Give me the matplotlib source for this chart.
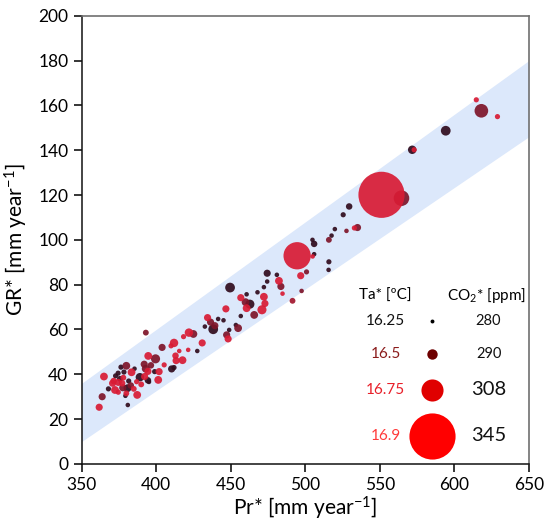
import numpy as np
import matplotlib
matplotlib.use("Agg")
from matplotlib import pyplot as plt
from matplotlib.colors import LinearSegmentedColormap

plt.rcParams['font.family'] = ['Lato', 'DejaVu Sans']
plt.rcParams['mathtext.fontset'] = 'custom'
plt.rcParams['mathtext.rm'] = 'Lato'
plt.rcParams['mathtext.it'] = 'Lato'

# Pr* [mm/yr], GR* [mm/yr], Ta* [C], CO2* [ppm]
pr = [361.8, 363.8, 365.0, 371.5, 372.8, 374.5, 375.7, 374.6, 377.2, 376.4,
      378.4, 380.0, 381.6, 377.6, 372.4, 374.6, 380.8, 380.0, 379.4, 381.0,
      383.5, 386.9, 387.3, 392.0, 393.0, 394.5, 392.3, 394.5, 389.1, 395.2,
      399.0, 402.0, 401.4, 394.7, 399.6, 393.1, 404.0, 405.4, 410.4, 412.0,
      410.0, 412.0, 413.0, 413.4, 415.5, 417.7, 418.4, 422.0, 425.0, 370.8,
      383.0, 385.0, 378.0, 368.0, 385.5, 390.0, 396.5, 427.6, 430.9, 432.7,
      434.5, 436.5, 438.3, 439.4, 441.6, 445.2, 446.8, 447.3, 448.3, 449.0,
      449.6, 453.5, 455.0, 456.8, 456.8, 460.0, 460.7, 460.7, 462.9, 465.8,
      468.0, 471.0, 472.3, 472.3, 473.0, 474.5, 474.5, 481.0, 482.4, 483.7,
      484.8, 491.5, 497.6, 497.0, 500.9, 494.6, 505.0, 506.0, 504.9, 506.0,
      515.9, 517.7, 519.9, 515.9, 515.7, 525.5, 529.5, 527.7, 533.0, 535.1,
      564.6, 551.2, 571.8, 573.1, 594.3, 618.2, 614.8, 629.0, 421.5]
gr = [25.3, 30.0, 39.0, 37.0, 39.3, 40.5, 38.0, 36.4, 36.0, 43.2,
      41.0, 43.8, 37.0, 34.0, 33.0, 32.0, 33.8, 31.5, 30.4, 26.3,
      40.9, 36.7, 30.8, 44.5, 42.5, 41.3, 39.0, 37.3, 38.7, 36.6,
      41.2, 41.2, 37.5, 48.2, 46.9, 58.6, 52.0, 44.2, 42.4, 43.0,
      52.7, 54.0, 48.3, 46.1, 50.4, 46.3, 56.8, 58.6, 58.0, 36.0,
      35.0, 33.5, 38.5, 33.5, 42.5, 35.5, 44.0, 50.4, 54.0, 61.3,
      65.3, 63.3, 60.1, 61.7, 64.7, 64.1, 69.2, 57.6, 55.8, 59.8,
      78.7, 62.0, 60.6, 74.2, 66.0, 72.2, 75.7, 69.5, 71.3, 66.5,
      76.6, 68.8, 74.6, 78.9, 71.6, 85.1, 81.4, 84.4, 81.7, 79.2,
      76.0, 72.8, 77.2, 84.0, 85.7, 92.9, 92.6, 93.6, 100.0, 98.2,
      100.0, 101.9, 104.8, 90.2, 86.6, 111.2, 114.9, 104.0, 105.3, 105.5,
      118.6, 120.1, 140.2, 140.2, 148.7, 157.6, 162.5, 155.0, 50.9]
ta = [16.75, 16.5, 16.75, 16.75, 16.28, 16.28, 16.28, 16.75, 16.75, 16.28,
      16.28, 16.5, 16.28, 16.5, 16.75, 16.75, 16.28, 16.75, 16.28, 16.28,
      16.75, 16.75, 16.75, 16.5, 16.5, 16.75, 16.75, 16.28, 16.28, 16.28,
      16.28, 16.75, 16.75, 16.75, 16.5, 16.5, 16.5, 16.75, 16.28, 16.28,
      16.75, 16.75, 16.75, 16.75, 16.75, 16.75, 16.75, 16.75, 16.5, 16.75,
      16.5, 16.75, 16.75, 16.28, 16.28, 16.75, 16.5, 16.28, 16.75, 16.28,
      16.75, 16.5, 16.28, 16.5, 16.28, 16.28, 16.75, 16.5, 16.75, 16.28,
      16.28, 16.28, 16.5, 16.75, 16.28, 16.5, 16.28, 16.75, 16.28, 16.5,
      16.28, 16.75, 16.75, 16.28, 16.75, 16.28, 16.28, 16.28, 16.75, 16.5,
      16.75, 16.6, 16.5, 16.75, 16.5, 16.75, 16.75, 16.28, 16.28, 16.28,
      16.5, 16.28, 16.28, 16.28, 16.28, 16.28, 16.28, 16.5, 16.75, 16.5,
      16.5, 16.75, 16.28, 16.75, 16.28, 16.5, 16.75, 16.75, 16.75]
co2 = [285, 285, 286, 284, 282, 282, 283, 285, 284, 282,
       282, 286, 282, 285, 286, 282, 286, 283, 281, 281,
       286, 282, 286, 285, 286, 285, 285, 284, 287, 281,
       282, 285, 286, 286, 288, 283, 285, 282, 285, 282,
       282, 287, 284, 285, 281, 286, 282, 287, 286, 285,
       284, 283, 283, 282, 281, 283, 284, 281, 285, 281,
       285, 285, 289, 285, 281, 281, 285, 285, 285, 281,
       289, 281, 286, 285, 281, 286, 281, 286, 288, 286,
       281, 288, 286, 281, 285, 285, 281, 281, 286, 285,
       281, 283, 281, 285, 282, 316, 281, 281, 281, 284,
       283, 281, 281, 282, 281, 282, 284, 281, 282, 285,
       298, 345, 287, 282, 289, 295, 282, 282, 281]

# uncertainty band (Pr*, lower, upper)
band_pr = [350, 650]
band_lo = [10, 146]
band_hi = [36, 180]

# legend entries
ta_legend = ['16.25', '16.5', '16.75', '16.9']
co2_legend = [280, 290, 308, 345]
legend_gr = [63.8, 49.1, 33.0, 12.5]


def marker_size(c):
    # CO2 -> marker area in pt^2
    d_px = 0.65 * (np.asarray(c, dtype=float) - 274)
    return (d_px * 0.72) ** 2


cmap = LinearSegmentedColormap.from_list(
    'ta', [(0.0, '#260b1c'), (0.3846, '#7e1429'), (0.7692, '#d81b34'), (1.0, '#e8162e')])

fig, ax = plt.subplots(figsize=(5.44, 5.26), dpi=100)
fig.subplots_adjust(left=0.150, right=0.972, bottom=0.118, top=0.970)

ax.fill_between(band_pr, band_lo, band_hi, color='#dce8fb', lw=0, zorder=1)

order = np.argsort(ta, kind='stable')
pr_a = np.array(pr)[order]
gr_a = np.array(gr)[order]
ta_a = np.array(ta)[order]
co2_a = np.array(co2)[order]
ax.scatter(pr_a, gr_a, s=marker_size(co2_a), c=ta_a, cmap=cmap, vmin=16.25, vmax=16.9,
           alpha=0.92, linewidths=0, zorder=3)

# legend drawn by hand
leg_marker_colors = ['#000000', '#6e0000', '#e00000', '#ff0000']
leg_text_colors = ['#111111', '#8b1c1c', '#e8202a', '#ff3b3b']
co2_fs = [10.5, 10.5, 14.5, 14.5]
ax.text(554, 75, 'Ta* [ºC]', ha='center', va='center', fontsize=11)
ax.text(622, 75, 'CO$_2$* [ppm]', ha='center', va='center', fontsize=11)
for i in range(len(ta_legend)):
    ax.text(554, legend_gr[i], ta_legend[i], ha='center', va='center',
            fontsize=11, color=leg_text_colors[i])
    ax.scatter([585], [legend_gr[i]], s=marker_size(co2_legend[i]),
               color=leg_marker_colors[i], linewidths=0, zorder=4)
    ax.text(623, legend_gr[i], str(co2_legend[i]), ha='center', va='center',
            fontsize=co2_fs[i], color='#111111')

ax.set_xlim(350, 650)
ax.set_ylim(0, 200)
ax.set_xticks(range(350, 651, 50))
ax.set_yticks(range(0, 201, 20))
ax.tick_params(direction='out', length=6, width=1.1, labelsize=12.5, top=False, right=False)
ax.set_xlabel('Pr* [mm year$^{-1}$]', fontsize=15, labelpad=1)
ax.set_ylabel('GR* [mm year$^{-1}$]', fontsize=15, labelpad=6)
for side in ['left', 'bottom']:
    ax.spines[side].set_linewidth(1.1)
    ax.spines[side].set_color('#111111')
for side in ['top', 'right']:
    ax.spines[side].set_linewidth(1.2)
    ax.spines[side].set_color('#707070')

fig.savefig('out.png', dpi=100)
